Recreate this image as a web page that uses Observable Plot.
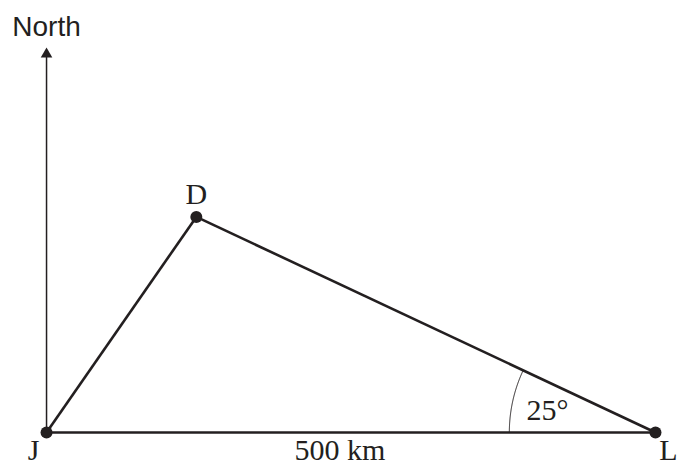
<!DOCTYPE html>
<html>
<head>
<meta charset="utf-8">
<script src="https://cdn.jsdelivr.net/npm/d3@7"></script>
<script src="https://cdn.jsdelivr.net/npm/@observablehq/plot@0.6"></script>
<style>
  html, body { margin: 0; padding: 0; background: #fff; }
  #chart svg { display: block; }
</style>
</head>
<body>
<div id="chart"></div>
<script>
// Points (km, east / north of J)
const pointNames = ["J", "D", "L"];
const pointX = [0, 123, 500];
const pointY = [0, 177, 0];
// Triangle edges (by point index)
const edgeFrom = [0, 1, 0];
const edgeTo   = [1, 2, 2];
// North arrow
const northLabel = "North";
const northTopY = 316;
// Angle at L
const angleDeg = 25;
const angleLabel = "25°";
const arcRadius = 120;
// Distance label
const distanceLabel = "500 km";

const ink = "#231f20";
const serif = "Liberation Serif, Times New Roman, serif";
const sans = "Liberation Sans, Arial, sans-serif";

const points = pointNames.map((n, i) => ({name: n, x: pointX[i], y: pointY[i]}));
const edges = edgeFrom.map((f, i) => ({x1: pointX[f], y1: pointY[f], x2: pointX[edgeTo[i]], y2: pointY[edgeTo[i]]}));
const L = points[2];
const arc = d3.range(0, angleDeg + 0.25, 0.25).map(a => ({
  x: L.x - arcRadius * Math.cos(a * Math.PI / 180),
  y: L.y + arcRadius * Math.sin(a * Math.PI / 180)
}));
const labelOpts = {
  J: {dx: -13, dy: 18, textAnchor: "middle"},
  D: {dx: 0, dy: -23, textAnchor: "middle"},
  L: {dx: 22, dy: 18, textAnchor: "end"}
};

const chart = Plot.plot({
  width: 678,
  height: 468,
  margin: 0,
  style: {background: "#fff"},
  x: {domain: [-37.8, 518.9], axis: null},
  y: {domain: [-29.6, 354.7], axis: null},
  marks: [
    // North arrow
    Plot.link([{x: 0, y1: 0, y2: northTopY - 4}], {x1: "x", x2: "x", y1: "y1", y2: "y2", stroke: ink, strokeWidth: 1.5}),
    Plot.dot([{x: 0, y: northTopY}], {x: "x", y: "y", symbol: "triangle", r: 4.3, fill: ink, stroke: "none", dy: 6.6}),
    Plot.text([northLabel], {x: () => 0, y: () => northTopY, text: d => d, dy: -21, fontFamily: sans, fontSize: 28, fill: ink}),
    // Triangle edges
    Plot.link(edges, {x1: "x1", y1: "y1", x2: "x2", y2: "y2", stroke: ink, strokeWidth: 2.6}),
    // Angle arc
    Plot.line(arc, {x: "x", y: "y", stroke: ink, strokeWidth: 1}),
    // Points
    Plot.dot(points, {x: "x", y: "y", r: 6, fill: ink, stroke: "none"}),
    // Point labels
    ...points.map(p => Plot.text([p], {x: "x", y: "y", text: "name", ...labelOpts[p.name], fontFamily: serif, fontSize: 30, fill: ink})),
    // Distance label
    Plot.text([distanceLabel], {x: () => (pointX[0] + pointX[2]) / 2, y: () => 0, text: d => d, dx: -11, dy: 18, fontFamily: serif, fontSize: 30, fill: ink}),
    // Angle label
    Plot.text([angleLabel], {x: () => L.x, y: () => L.y, text: d => d, dx: -108, dy: -22, fontFamily: serif, fontSize: 30, fill: ink})
  ]
});
document.getElementById("chart").append(chart);
</script>
</body>
</html>
